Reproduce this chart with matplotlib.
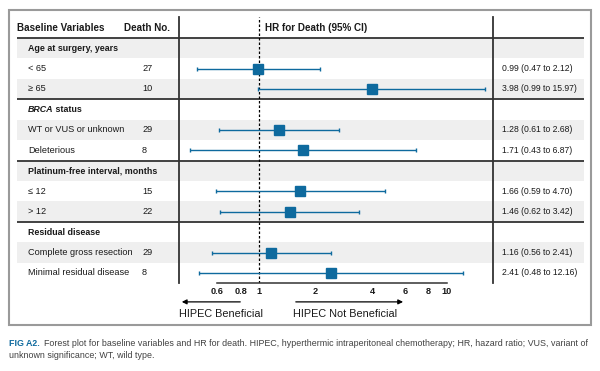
import numpy as np
import matplotlib
matplotlib.use("Agg")
import matplotlib.pyplot as plt
from matplotlib.patches import Rectangle

plt.rcParams['font.family'] = ['Liberation Sans Narrow', 'Liberation Sans', 'DejaVu Sans']

# sections and subgroups
sections = ["Age at surgery, years", "BRCA", "Platinum-free interval, months", "Residual disease"]
groups = ["< 65", "\u2265 65", "WT or VUS or unknown", "Deleterious",
          "\u2264 12", "> 12", "Complete gross resection", "Minimal residual disease"]
deaths = [27, 10, 29, 8, 15, 22, 29, 8]
hr = np.array([0.99, 3.98, 1.28, 1.71, 1.66, 1.46, 1.16, 2.41])
ci_lo = np.array([0.47, 0.99, 0.61, 0.43, 0.59, 0.62, 0.56, 0.48])
ci_hi = np.array([2.12, 15.97, 2.68, 6.87, 4.70, 3.42, 2.41, 12.16])
xticks = [0.6, 0.8, 1, 2, 4, 6, 8, 10]

blue = '#0e6a9e'
dark = '#1a1a1a'
W, H = 600, 371

fig = plt.figure(figsize=(6, 3.71), dpi=100)

def box(x0, y0, x1, y1):
    # pixel box (top-left origin) -> figure fraction
    return [x0 / W, 1 - y1 / H, (x1 - x0) / W, (y1 - y0) / H]

# row positions: each section = header row + 2 subgroup rows
sec_rows = [3 * i for i in range(len(sections))]
grp_rows = [3 * i + k for i in range(len(sections)) for k in (1, 2)]
ylim = (11.49, -1.52)

# background table axes
bg = fig.add_axes(box(17, 17, 584, 283))
bg.set_xlim(0, 1)
bg.set_ylim(*ylim)
bg.axis('off')
for r in range(0, 12, 2):
    bg.axhspan(r - 0.5, r + 0.5, color='#efefef', lw=0)
for y in [-0.5, 2.5, 5.5, 8.5]:
    bg.axhline(y, color='#333333', lw=1.3)

bg.text(0.0, -1, "Baseline Variables", fontsize=7.1, fontweight='bold', va='center', color=dark)
bg.text(0.27, -1, "Death No.", fontsize=7.1, fontweight='bold', va='center', ha='right', color=dark)
for r, s in zip(sec_rows, sections):
    if s == "BRCA":
        t = bg.text(0.019, r, s, fontsize=6.4, fontweight='bold', fontstyle='italic',
                    va='center', color=dark)
        bg.annotate(" status", xy=(1, 0), xycoords=t, va='bottom', fontsize=6.4,
                    fontweight='bold', color=dark)
    else:
        bg.text(0.019, r, s, fontsize=6.4, fontweight='bold', va='center', color=dark)
for r, g, d, h, lo, hi in zip(grp_rows, groups, deaths, hr, ci_lo, ci_hi):
    bg.text(0.019, r, g, fontsize=6.6, va='center', color=dark)
    bg.text(0.2205, r, str(d), fontsize=6.6, va='center', color=dark)
    bg.text(0.855, r, f"{h:.2f} ({lo:.2f} to {hi:.2f})", fontsize=6.2, va='center', color=dark)

# forest plot axes
ax = fig.add_axes(box(179, 17, 493, 283))
ax.patch.set_alpha(0)
ax.set_xscale('log')
ax.set_xlim(0.375, 17.6)
ax.set_ylim(*ylim)
ax.errorbar(hr, grp_rows, xerr=[hr - ci_lo, ci_hi - hr], fmt='s', color=blue,
            ms=6.5, elinewidth=1.0, capsize=1.5, capthick=1.0, zorder=3)
ax.axvline(1, color='black', lw=0.9, ls=(0, (2, 1.6)), zorder=2)
ax.text(1.075, -1, "HR for Death (95% CI)", fontsize=7.1, fontweight='bold', va='center', color=dark)

ax.spines['top'].set_visible(False)
for side in ['left', 'right']:
    ax.spines[side].set_color('#333333')
    ax.spines[side].set_linewidth(1.3)
ax.spines['bottom'].set_bounds(0.6, 10)
ax.spines['bottom'].set_color('#333333')
ax.spines['bottom'].set_linewidth(1.1)
ax.set_yticks([])
ax.set_xticks(xticks)
ax.set_xticklabels([f"{t:g}" for t in xticks], fontweight='bold')
ax.xaxis.set_minor_locator(matplotlib.ticker.NullLocator())
ax.tick_params(axis='x', length=0, pad=3, labelsize=6.6, labelcolor=dark)

# direction arrows
ax.annotate("", xy=(0.375, -0.071), xytext=(0.822, -0.071),
            xycoords=('data', 'axes fraction'), textcoords=('data', 'axes fraction'),
            arrowprops=dict(arrowstyle='-|>', color='black', lw=0.9, mutation_scale=7),
            annotation_clip=False)
ax.annotate("", xy=(6.05, -0.071), xytext=(1.517, -0.071),
            xycoords=('data', 'axes fraction'), textcoords=('data', 'axes fraction'),
            arrowprops=dict(arrowstyle='-|>', color='black', lw=0.9, mutation_scale=7),
            annotation_clip=False)
ax.text(0.375, -0.118, "HIPEC Beneficial", fontsize=7.8, va='center', color=dark,
        transform=ax.get_xaxis_transform())
ax.text(1.517, -0.118, "HIPEC Not Beneficial", fontsize=7.8, va='center', color=dark,
        transform=ax.get_xaxis_transform())

# outer frame
fig.patches.append(Rectangle((9 / W, 1 - 325 / H), 582 / W, 315 / H, transform=fig.transFigure,
                             fill=False, edgecolor='#9a9a9a', lw=1.5))

# caption
t1 = fig.text(9 / W, 1 - 343 / H, "FIG A2.", fontsize=6.4, fontweight='bold', color=blue, va='center')
ax.annotate("Forest plot for baseline variables and HR for death. HIPEC, hyperthermic intraperitoneal "
            "chemotherapy; HR, hazard ratio; VUS, variant of",
            xy=(1, 0), xycoords=t1, xytext=(3, 0), textcoords='offset points',
            fontsize=6.4, color='#404040', va='bottom', annotation_clip=False)
fig.text(9 / W, 1 - 356 / H, "unknown significance; WT, wild type.", fontsize=6.4,
         color='#404040', va='center')

fig.savefig("out.png", dpi=100)
